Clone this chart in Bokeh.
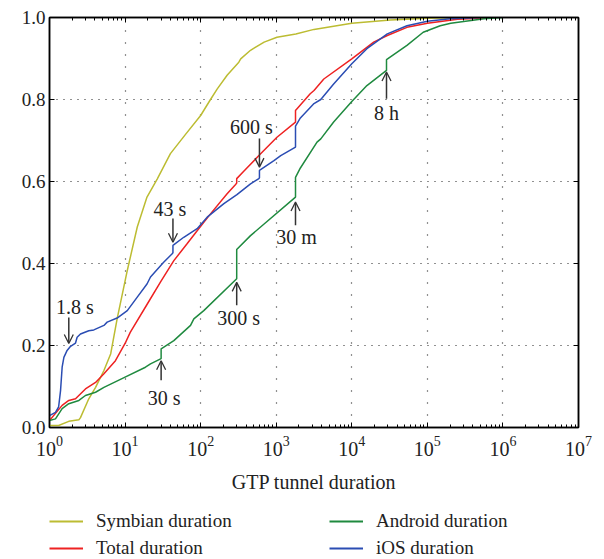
from bokeh.plotting import figure
from bokeh.layouts import column
from bokeh.models import (FixedTicker, LogTickFormatter, Arrow, OpenHead, Legend, LegendItem,
                          LogAxis, LinearAxis, Range1d, PrintfTickFormatter, ColumnDataSource)
from bokeh.embed import file_html
from bokeh.resources import INLINE
from bokeh.core.properties import value

FONT = "Liberation Serif"

# ---------------- data (duration in seconds, CDF) ----------------
symbian_x = [1, 1.32, 1.8, 2.45, 2.57, 3.31, 4.07, 5.25, 6.46, 7.85, 10.7, 14.5, 19.5, 26.6,
             39.8, 63.1, 100, 135, 166, 224, 320, 339, 457, 692, 1023, 1820, 3162, 10000,
             32360, 100000, 316000]
symbian_y = [0.005, 0.005, 0.015, 0.019, 0.024, 0.07, 0.098, 0.139, 0.18, 0.265, 0.383, 0.489,
             0.562, 0.606, 0.668, 0.715, 0.761, 0.80, 0.826, 0.859, 0.891, 0.899, 0.92, 0.94,
             0.952, 0.96, 0.971, 0.986, 0.994, 0.998, 1.0]

total_x = [1, 1.47, 1.8, 2.21, 2.99, 4.07, 5.25, 7.46, 10, 11.7, 19.5, 29.5, 44.2, 66.1, 89.9,
           135, 224, 288, 300, 300, 372, 617, 1023, 1800, 1800, 2818, 3162, 4266, 10000, 19500,
           29510, 53700, 100000, 251000, 794000]
total_y = [0.017, 0.054, 0.066, 0.07, 0.094, 0.11, 0.131, 0.163, 0.205, 0.232, 0.30, 0.355,
           0.407, 0.448, 0.48, 0.521, 0.57, 0.592, 0.596, 0.607, 0.625, 0.667, 0.708, 0.745,
           0.773, 0.814, 0.822, 0.85, 0.899, 0.94, 0.956, 0.976, 0.986, 0.996, 1.0]

android_x = [1, 1.2, 1.47, 1.8, 2.45, 2.99, 4.07, 5.25, 10, 18.6, 21.7, 30, 30, 44.2, 73.5,
             81.3, 110, 300, 300, 457, 1800, 1800, 2089, 3467, 3890, 5754, 10000, 15850, 28800,
             28800, 53700, 88100, 147900, 204200, 562300, 1000000]
android_y = [0.017, 0.021, 0.046, 0.058, 0.066, 0.078, 0.086, 0.098, 0.123, 0.147, 0.155,
             0.168, 0.192, 0.212, 0.249, 0.265, 0.285, 0.363, 0.434, 0.468, 0.562, 0.61, 0.633,
             0.696, 0.704, 0.745, 0.795, 0.834, 0.871, 0.897, 0.932, 0.964, 0.98, 0.986, 0.997,
             1.0]

ios_x = [1, 1.2, 1.32, 1.4, 1.47, 1.55, 1.71, 1.9, 2.21, 2.32, 2.57, 3.31, 3.86, 5.25, 5.79,
         7.85, 10.7, 14.5, 19.5, 21.7, 32.4, 41.7, 43, 43, 59.8, 89.9, 122, 203, 302, 457, 589,
         600, 600, 933, 1148, 1800, 1800, 2089, 3162, 3890, 5754, 10000, 15850, 29510, 53700,
         100000, 199500, 501000]
ios_y = [0.029, 0.037, 0.05, 0.09, 0.147, 0.171, 0.188, 0.198, 0.206, 0.22, 0.228, 0.236,
         0.238, 0.249, 0.257, 0.267, 0.285, 0.318, 0.35, 0.367, 0.403, 0.423, 0.426, 0.444,
         0.464, 0.485, 0.513, 0.546, 0.568, 0.594, 0.607, 0.609, 0.627, 0.651, 0.663, 0.684,
         0.735, 0.755, 0.79, 0.80, 0.838, 0.887, 0.924, 0.96, 0.98, 0.991, 0.997, 1.0]

series_names = ["Symbian duration", "Total duration", "Android duration", "iOS duration"]
series_colors = ["#BCBC32", "#EE2222", "#1F8A3F", "#2B4DB3"]

# annotations
ann_labels = ["1.8 s", "30 s", "300 s", "43 s", "600 s", "30 m", "8 h"]
ann_x = [1.8, 30, 300, 43, 600, 1800, 28800]
ann_tail_y = [0.268, 0.115, 0.298, 0.51, 0.705, 0.493, 0.802]
ann_tip_y = [0.205, 0.163, 0.354, 0.452, 0.635, 0.55, 0.867]
ann_text_y = [0.293, 0.073, 0.266, 0.532, 0.732, 0.464, 0.767]
ann_text_dx = [6, 3, 2, -3, -8, 1, 0]

x_ticks = [1, 10, 100, 1000, 10000, 100000, 1000000, 10000000]
y_ticks = [0.0, 0.2, 0.4, 0.6, 0.8, 1.0]

# ---------------- main figure ----------------
p = figure(width=604, height=497, x_axis_type="log",
           x_range=Range1d(1, 1e7), y_range=Range1d(0, 1),
           output_backend="svg", toolbar_location=None,
           min_border_left=49, min_border_right=26, min_border_top=17, min_border_bottom=70)

p.outline_line_color = "black"
p.outline_line_width = 1.5
p.background_fill_color = "white"
p.border_fill_color = "white"

minor = [m * d for d in x_ticks[:-1] for m in range(2, 10)]
xt = FixedTicker(ticks=x_ticks, minor_ticks=minor)
yt = FixedTicker(ticks=y_ticks)

xa = p.xaxis[0]
xa.ticker = xt
xa.formatter = LogTickFormatter()
xa.axis_label = "GTP tunnel duration"
xa.axis_label_text_font = FONT
xa.axis_label_text_font_size = "20px"
xa.axis_label_text_font_style = "normal"
xa.axis_label_text_color = "#222222"
xa.axis_label_standoff = 12
xa.major_label_text_font = FONT
xa.major_label_text_font_size = "20px"
xa.major_label_text_color = "#222222"
xa.major_label_standoff = 8

ya = p.yaxis[0]
ya.ticker = yt
ya.formatter = PrintfTickFormatter(format="%.1f")
ya.major_label_text_font = FONT
ya.major_label_text_font_size = "19px"
ya.major_label_text_color = "#222222"
ya.major_label_standoff = 4

for ax in (xa, ya):
    ax.axis_line_color = "black"
    ax.axis_line_width = 1.5
    ax.major_tick_in = 5
    ax.major_tick_out = 0
    ax.minor_tick_in = 3
    ax.minor_tick_out = 0
    ax.major_tick_line_color = "black"
    ax.minor_tick_line_color = "black"

# mirrored axes (top and right) with ticks only
top = LogAxis(ticker=xt, major_label_overrides={t: "" for t in x_ticks},
              major_tick_in=5, major_tick_out=0, minor_tick_in=3, minor_tick_out=0,
              axis_line_color="black", axis_line_width=1.5, major_label_standoff=0)
right = LinearAxis(ticker=yt, major_label_overrides={t: "" for t in y_ticks},
                   major_tick_in=5, major_tick_out=0, minor_tick_in=0, minor_tick_out=0,
                   axis_line_color="black", axis_line_width=1.5, major_label_standoff=0)
p.add_layout(top, "above")
p.add_layout(right, "right")

p.xgrid.ticker = xt
p.ygrid.ticker = yt
p.xgrid.grid_line_color = "#222222"
p.xgrid.grid_line_dash = "1 11"
p.xgrid.grid_line_width = 1.2
p.ygrid.grid_line_color = "#222222"
p.ygrid.grid_line_dash = "1 6"
p.ygrid.grid_line_width = 1.2

# ---------------- lines ----------------
for xs, ys, c in zip([symbian_x, total_x, android_x, ios_x],
                     [symbian_y, total_y, android_y, ios_y], series_colors):
    p.line(xs, ys, line_color=c, line_width=1.5)

# ---------------- annotations ----------------
for lab, x, yt0, yt1, ytx, dx in zip(ann_labels, ann_x, ann_tail_y, ann_tip_y, ann_text_y, ann_text_dx):
    p.add_layout(Arrow(end=OpenHead(size=9, line_color="#333333", line_width=1.3),
                       x_start=x, y_start=yt0, x_end=x, y_end=yt1,
                       line_color="#333333", line_width=1.5))
src = ColumnDataSource(dict(x=ann_x, y=ann_text_y, t=ann_labels, dx=ann_text_dx))
p.text(x="x", y="y", text="t", x_offset="dx", source=src, text_font=value(FONT),
       text_font_size="20px", text_align="center", text_baseline="middle",
       text_color="#222222")

# ---------------- legend (separate strip below the plot) ----------------
lg = figure(width=604, height=62, output_backend="svg", toolbar_location=None,
            x_range=Range1d(0, 1), y_range=Range1d(0, 1),
            min_border_left=0, min_border_right=0, min_border_top=0, min_border_bottom=0)
lg.axis.visible = False
lg.grid.visible = False
lg.outline_line_color = None
lg.background_fill_color = "white"
lg.border_fill_color = "white"
renderers = [lg.line([float("nan")], [float("nan")], line_color=c, line_width=1.8)
             for c in series_colors]
items = [LegendItem(label=n, renderers=[r]) for n, r in zip(series_names, renderers)]
legend = Legend(items=items, location=(0, 0), nrows=2, orientation="vertical",
                glyph_width=34, glyph_height=20, label_width=228, label_height=20,
                label_standoff=13, spacing=5, padding=0, margin=0,
                label_text_font=FONT, label_text_font_size="19px", label_text_color="#222222",
                border_line_color=None, background_fill_alpha=0)
lg.add_layout(legend, "center")

open("out.html", "w").write(file_html(column(p, lg, spacing=0), INLINE))
